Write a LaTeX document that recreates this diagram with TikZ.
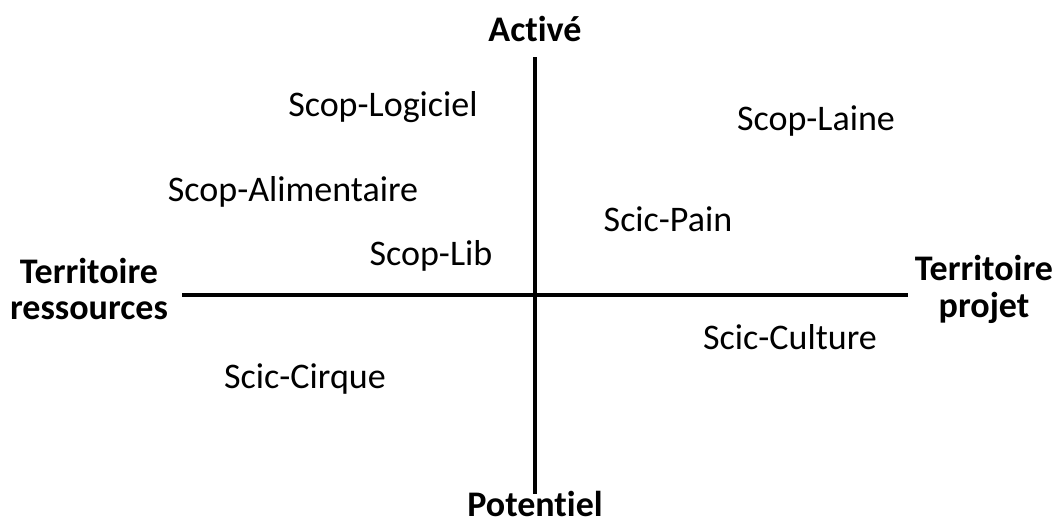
\documentclass[tikz,border=0pt]{standalone}
\usepackage{fontspec}
\setmainfont[Ligatures=NoCommon]{Carlito}
\usetikzlibrary{calc}
\tikzset{axis/.style = {line width=2.3pt}}
\tikzset{case/.style = {font=\fontsize{20.5}{24}\selectfont}}
\tikzset{pole/.style = {font=\fontsize{20.5}{21}\selectfont\bfseries, align=center}}

\begin{document}
\begin{tikzpicture}[x=0.02cm,y=-0.02cm]
            \useasboundingbox (0,0) rectangle (1054,524);

            % Axes
            \coordinate (top) at (535,57);
            \coordinate (bottom) at (535,494);
            \coordinate (left) at (182,295);
            \coordinate (right) at (908,295);
            \draw[axis] (left) -- (right);
            \draw[axis] (top) -- (bottom);

            % Poles
            \node[pole] (active) at (535,29) {Activé};
            \node[pole, anchor=base, inner sep=0pt] (potentiel) at (535,516) {Potentiel};
            \node[pole] (ressources) at (89,289) {Territoire\\ressources};
            \node[pole] (projet) at (984,289) {Territoire\\projet};

            % Cases
            \node[case] (logiciel) at (383,107) {Scop-Logiciel};
            \node[case] (laine) at (816,121) {Scop-Laine};
            \node[case] (alimentaire) at (293,192) {Scop-Alimentaire};
            \node[case] (pain) at (668,219) {Scic-Pain};
            \node[case] (lib) at (431,256) {Scop-Lib};
            \node[case] (culture) at (790,337) {Scic-Culture};
            \node[case] (cirque) at (305,379) {Scic-Cirque};
        \end{tikzpicture}
\end{document}
